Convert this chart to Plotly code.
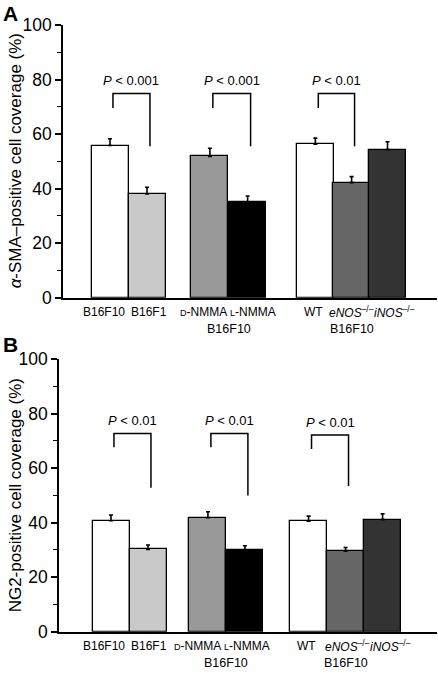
import plotly.graph_objects as go

# ---------------- data ----------------
categories = ["B16F10", "B16F1", "D-NMMA", "L-NMMA", "WT", "eNOS-/-", "iNOS-/-"]
tick_labels = ["B16F10", "B16F1",
               "<span style='font-size:9px'>D</span>-NMMA",
               "<span style='font-size:9px'>L</span>-NMMA",
               "WT",
               "<i>eNOS</i><sup>–/–</sup>",
               "<i>iNOS</i><sup>–/–</sup>"]
group_labels = ["B16F10", "B16F10"]          # second row, under groups 2 and 3
sma_values = [55.8, 38.0, 51.8, 35.0, 56.3, 42.2, 54.3]
sma_errors = [2.5, 2.5, 3.0, 2.3, 2.2, 2.2, 2.9]
ng2_values = [40.7, 30.2, 41.8, 30.0, 40.5, 29.5, 41.1]
ng2_errors = [2.1, 1.6, 2.2, 1.5, 1.9, 1.4, 2.1]
sma_pvalues = ["<i>P</i> < 0.001", "<i>P</i> < 0.001", "<i>P</i> < 0.01"]
ng2_pvalues = ["<i>P</i> < 0.01", "<i>P</i> < 0.01", "<i>P</i> < 0.01"]
# bracket: (left index, right index, left-leg bottom, top, right-leg bottom)
sma_brackets = [(0, 1, 69.6, 74.9, 55.5), (2, 3, 69.6, 74.9, 55.5), (4, 5, 69.6, 74.9, 55.5)]
ng2_brackets = [(0, 1, 67.6, 72.7, 52.8), (2, 3, 67.6, 72.7, 49.9), (4, 5, 67.0, 72.1, 53.4)]
y_title_a = "<i>α</i>-SMA–positive cell coverage (%)"
y_title_b = "NG2-positive cell coverage (%)"

# ---------------- layout / style ----------------
W, H = 438, 673
colors = ["#ffffff", "#c9c9c9", "#999999", "#000000", "#ffffff", "#666666", "#333333"]
FONT = "Liberation Sans, Arial, Helvetica, sans-serif"
PX = 37.0  # pixels per x unit

pos_a = [0, 1, 2.7, 3.72, 5.55, 6.53, 7.5]
pos_b = [0, 1, 2.62, 3.62, 5.34, 6.34, 7.34]
# horizontal label nudges (px) relative to bar centres
lab_off_a = [-6, 1.5, -6.5, 5.5, -1.5, 0, 7]
lab_off_b = [-7, 0.5, -10.5, 1.7, -1.7, 2, 8]

panels = [
    dict(vals=sma_values, errs=sma_errors, pos=pos_a, off=lab_off_a, zero_px=110, axis_px=63,
         ytop=25, ybot=297.7, lab1=311.7, lab2=328.5, brackets=sma_brackets, pvals=sma_pvalues,
         title=y_title_a, letter="A", letter_y=13, xa="x", ya="y"),
    dict(vals=ng2_values, errs=ng2_errors, pos=pos_b, off=lab_off_b, zero_px=111, axis_px=59,
         ytop=359, ybot=631.7, lab1=645.5, lab2=663, brackets=ng2_brackets, pvals=ng2_pvalues,
         title=y_title_b, letter="B", letter_y=345, xa="x2", ya="y2"),
]

fig = go.Figure()
annotations = []
layout_axes = {}

for i, p in enumerate(panels):
    fig.add_trace(go.Bar(
        x=p["pos"], y=p["vals"], width=1.0,
        marker=dict(color=colors, line=dict(color="black", width=1.3)),
        error_y=dict(type="data", array=p["errs"], arrayminus=[0] * len(p["errs"]),
                     symmetric=False, color="black", thickness=1.6, width=2),
        xaxis=p["xa"], yaxis=p["ya"], showlegend=False, hoverinfo="skip",
    ))
    for (li, ri, lb, top, rb), ptxt in zip(p["brackets"], p["pvals"]):
        xl, xr = p["pos"][li] + 0.08, p["pos"][ri] + 0.08
        fig.add_trace(go.Scatter(
            x=[xl, xl, xr, xr], y=[lb, top, top, rb], mode="lines",
            line=dict(color="black", width=1.5),
            xaxis=p["xa"], yaxis=p["ya"], showlegend=False, hoverinfo="skip",
        ))
        annotations.append(dict(
            x=(xl + xr) / 2, y=top + 1.2, xref=p["xa"], yref=p["ya"],
            text=ptxt, showarrow=False, xanchor="center", yanchor="bottom",
            font=dict(family=FONT, size=13, color="black"),
        ))
    xmin = (p["axis_px"] - p["zero_px"]) / PX
    xmax = (437 - p["zero_px"]) / PX
    xdom = [p["axis_px"] / W, 437 / W]
    ydom = [1 - p["ybot"] / H, 1 - p["ytop"] / H]
    suffix = "" if i == 0 else "2"
    layout_axes["xaxis" + suffix] = dict(
        domain=xdom, range=[xmin, xmax], showticklabels=False, ticks="",
        showline=True, linecolor="black", linewidth=1.5,
        showgrid=False, zeroline=False, automargin=False,
        anchor=p["ya"], fixedrange=True,
    )
    layout_axes["yaxis" + suffix] = dict(
        domain=ydom, range=[0, 100], tickvals=[0, 20, 40, 60, 80, 100],
        showline=True, linecolor="black", linewidth=1.5, ticks="outside",
        ticklen=6, tickwidth=1.5, tickcolor="black",
        minor=dict(tickvals=[10, 30, 50, 70, 90], ticks="outside", ticklen=4,
                   tickwidth=1.3, tickcolor="black"),
        showgrid=False, zeroline=False, automargin=False,
        tickfont=dict(family=FONT, size=17.5, color="black"),
        anchor=p["xa"], fixedrange=True,
    )
    # category labels (first row)
    for x, o, t in zip(p["pos"], p["off"], tick_labels):
        annotations.append(dict(
            x=x + o / PX, y=1 - p["lab1"] / H, xref=p["xa"], yref="paper",
            text=t, showarrow=False, xanchor="center", yanchor="middle",
            font=dict(family=FONT, size=12, color="black"),
        ))
    # second row group labels
    g2 = (p["pos"][2] + p["pos"][3]) / 2
    g3 = p["pos"][5]
    for gx, gl in zip([g2, g3], group_labels):
        annotations.append(dict(
            x=gx, y=1 - p["lab2"] / H, xref=p["xa"], yref="paper",
            text=gl, showarrow=False, xanchor="center", yanchor="middle",
            font=dict(family=FONT, size=12.5, color="black"),
        ))
    # y title
    annotations.append(dict(
        x=15 / W, y=(ydom[0] + ydom[1]) / 2, xref="paper", yref="paper",
        text=p["title"], textangle=-90, showarrow=False,
        xanchor="center", yanchor="middle",
        font=dict(family=FONT, size=17, color="black"),
    ))
    # panel letter
    annotations.append(dict(
        x=10 / W, y=1 - p["letter_y"] / H, xref="paper", yref="paper",
        text="<b>" + p["letter"] + "</b>", showarrow=False,
        xanchor="center", yanchor="middle",
        font=dict(family=FONT, size=21, color="black"),
    ))

fig.update_layout(
    width=W, height=H, margin=dict(l=0, r=0, t=0, b=0, autoexpand=False),
    paper_bgcolor="white", plot_bgcolor="white",
    annotations=annotations, bargap=0, **layout_axes,
)

fig.write_html(
    "out.html",
    config={"displayModeBar": False},
    post_script="document.body.style.margin='0';document.body.style.padding='0';",
)
